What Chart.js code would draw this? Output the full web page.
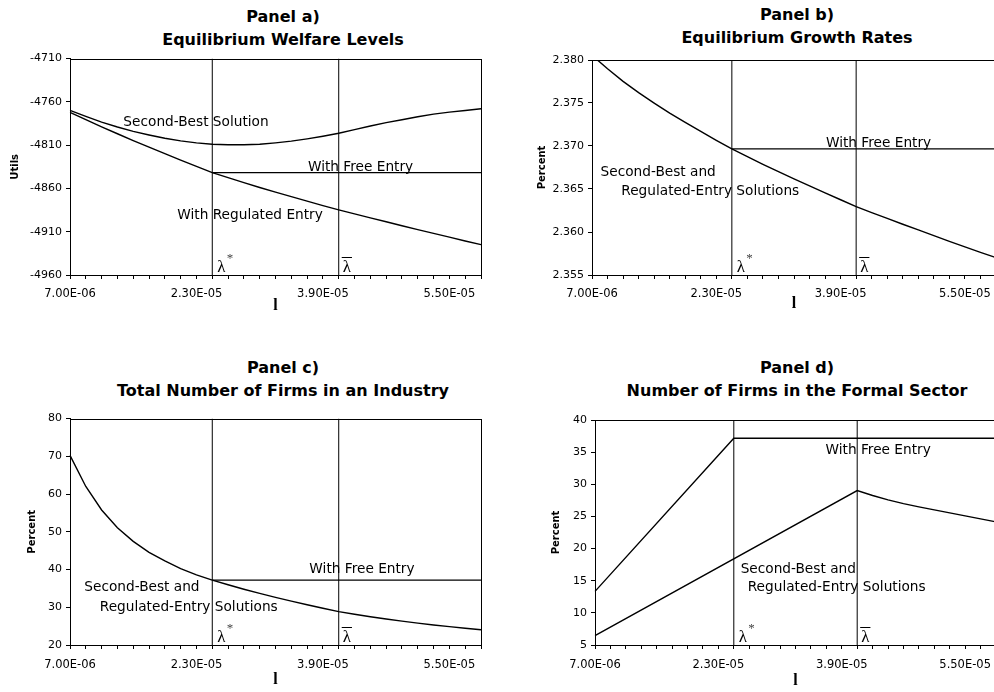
<!DOCTYPE html>
<html lang="en">
<head>
<meta charset="UTF-8">
<title>Equilibrium panels</title>
<script src="https://cdn.jsdelivr.net/npm/chart.js"></script>
<style>
  html, body { margin:0; padding:0; background:#fff; overflow:hidden; }
  body { width:994px; height:692px; position:relative; font-family:"DejaVu Sans", sans-serif; }
  .ttl { position:absolute; width:500px; text-align:center; font-weight:bold; font-size:16px; line-height:23px; color:#000; white-space:nowrap; }
  canvas { position:absolute; }
</style>
</head>
<body>
<div class="ttl" style="left:33px; top:5px;">Panel a)<br>Equilibrium Welfare Levels</div>
<div class="ttl" style="left:547px; top:3px;">Panel b)<br>Equilibrium Growth Rates</div>
<div class="ttl" style="left:33px; top:356px;">Panel c)<br>Total Number of Firms in an Industry</div>
<div class="ttl" style="left:547px; top:356px;">Panel d)<br>Number of Firms in the Formal Sector</div>

<canvas id="ca" width="566" height="272" style="left:0; top:48px;"></canvas>
<canvas id="cb" width="594" height="272" style="left:500px; top:48px;"></canvas>
<canvas id="cc" width="566" height="284" style="left:0; top:408px;"></canvas>
<canvas id="cd" width="594" height="284" style="left:500px; top:408px;"></canvas>

<script>
  // lambda grid of the category axis (step 2E-06), labels shown every 8th
  const lambdas = ['7.00E-06','9.00E-06','1.10E-05','1.30E-05','1.50E-05','1.70E-05','1.90E-05','2.10E-05','2.30E-05',
                   '2.50E-05','2.70E-05','2.90E-05','3.10E-05','3.30E-05','3.50E-05','3.70E-05','3.90E-05','4.10E-05',
                   '4.30E-05','4.50E-05','4.70E-05','4.90E-05','5.10E-05','5.30E-05','5.50E-05','5.70E-05','5.90E-05'];
  const shownLambdas = ['7.00E-06','2.30E-05','3.90E-05','5.50E-05'];
  const lambdaStar = '2.50E-05';
  const lambdaBar = '4.10E-05';

  // Panel a) welfare, utils
  const welfareSecondBest = [-4769.9,-4776.8,-4783.3,-4789.0,-4794.0,-4798.2,-4802.0,-4805.0,-4807.3,-4808.9,-4809.6,-4809.6,-4808.9,-4807.3,
                             -4805.4,-4802.7,-4799.7,-4796.3,-4792.1,-4787.9,-4784.0,-4780.6,-4777.2,-4774.1,-4771.8,-4769.9,-4768.0];
  const welfareRegulated = [-4772.2,-4780.6,-4788.8,-4796.8,-4804.7,-4812.3,-4819.7,-4827.2,-4834.4,-4841.7,-4847.6,-4853.3,-4858.9,-4864.2,
                            -4869.5,-4874.7,-4879.8,-4884.8,-4889.4,-4894.0,-4898.5,-4903.1,-4907.5,-4911.9,-4916.3,-4920.7,-4924.9];
  const welfareFree = [null,null,null,null,null,null,null,null,null,-4841.7,-4841.7,-4841.7,-4841.7,-4841.7,
                       -4841.7,-4841.7,-4841.7,-4841.7,-4841.7,-4841.7,-4841.7,-4841.7,-4841.7,-4841.7,-4841.7,-4841.7,-4841.7];

  // Panel b) growth rate, percent
  const growthSBR = [2.38054,2.37899,2.37752,2.37620,2.37499,2.37383,2.37274,2.37169,2.37066,2.36967,2.36876,2.36787,2.36701,2.36618,
                     2.36536,2.36455,2.36375,2.36296,2.36226,2.36158,2.36090,2.36024,2.35958,2.35892,2.35828,2.35764,2.35702];
  const growthFree = [null,null,null,null,null,null,null,null,null,2.36967,2.36967,2.36967,2.36967,2.36967,
                      2.36967,2.36967,2.36967,2.36967,2.36967,2.36967,2.36967,2.36967,2.36967,2.36967,2.36967,2.36967,2.36967];

  // Panel c) total firms
  const firmsSBR = [70.26,62.02,55.79,51.05,47.46,44.56,42.28,40.26,38.60,37.19,35.96,34.78,33.68,32.63,
                    31.62,30.66,29.74,28.86,28.16,27.50,26.89,26.32,25.79,25.31,24.87,24.43,24.04];
  const firmsFree = [null,null,null,null,null,null,null,null,null,37.19,37.19,37.19,37.19,37.19,
                     37.19,37.19,37.19,37.19,37.19,37.19,37.19,37.19,37.19,37.19,37.19,37.19,37.19];

  // Panel d) formal-sector firms; the rising parts are straight, only their ends are read
  const formalFree = [13.34,null,null,null,null,null,null,null,null,37.15,37.15,37.15,37.15,37.15,
                      37.15,37.15,37.15,37.15,37.15,37.15,37.15,37.15,37.15,37.15,37.15,37.15,37.15];
  const formalSBR = [6.45,null,null,null,null,null,null,null,null,null,null,null,null,null,
                     null,null,null,29.02,28.25,27.57,27.00,26.49,26.02,25.55,25.09,24.62,24.16];

  // y axes: min, max, step
  const welfareAxis = [-4960, -4710, 50];
  const growthAxis = [2.355, 2.380, 0.005];
  const firmsAxis = [20, 80, 10];
  const formalAxis = [5, 40, 5];

  // box round the plot area (Excel style)
  const frame = {
    id: 'frame',
    afterDraw(chart) {
      const {ctx, chartArea: a} = chart;
      const l = Math.round(a.left), t = Math.round(a.top);
      ctx.save();
      ctx.strokeStyle = '#000';
      ctx.lineWidth = 1;
      ctx.strokeRect(l + 0.5, t + 0.5, Math.round(a.right) - l, Math.round(a.bottom) - t);
      ctx.restore();
    }
  };

  // text labels in the plot + lambda markers next to the two vertical lines
  function marks(notes) {
    return {
      id: 'marks',
      afterDatasetsDraw(chart) {
        const {ctx, chartArea: a, scales: {x, y}} = chart;
        ctx.save();
        ctx.fillStyle = '#000';
        ctx.font = '13.7px "DejaVu Sans"';
        ctx.textAlign = 'center';
        ctx.textBaseline = 'alphabetic';
        notes.forEach(([t, i, v]) => ctx.fillText(t, x.getPixelForValue(i), y.getPixelForValue(v)));

        ctx.textAlign = 'left';
        ctx.font = '17px "Liberation Serif"';
        const xs = x.getPixelForValue(lambdaStar) + 5;
        ctx.fillText('λ', xs, a.bottom - 3.5);
        ctx.font = '13px "Liberation Serif"';
        ctx.fillStyle = '#444';
        ctx.fillText('*', xs + 9.5, a.bottom - 13);

        ctx.fillStyle = '#000';
        ctx.font = '17px "Liberation Serif"';
        const xb = x.getPixelForValue(lambdaBar) + 4;
        ctx.fillText('λ', xb, a.bottom - 3.5);
        const w = ctx.measureText('λ').width;
        ctx.strokeStyle = '#000';
        ctx.lineWidth = 1;
        ctx.beginPath();
        ctx.moveTo(xb - 1, Math.round(a.bottom - 18) + 0.5);
        ctx.lineTo(xb + w + 1, Math.round(a.bottom - 18) + 0.5);
        ctx.stroke();
        ctx.restore();
      }
    };
  }

  function panel(id, opt) {
    const [yMin, yMax, yStep] = opt.yAxis;
    const sets = opt.series.map(s => ({
      data: s, borderColor: '#000', borderWidth: 1.4, pointRadius: 0, spanGaps: true, tension: 0
    }));
    [lambdaStar, lambdaBar].forEach(l => sets.push({
      data: [{x: l, y: yMin}, {x: l, y: yMax}], borderColor: '#000', borderWidth: 1, pointRadius: 0
    }));
    new Chart(document.getElementById(id), {
      type: 'line',
      data: { labels: lambdas, datasets: sets },
      options: {
        responsive: false, animation: false, events: [],
        layout: { padding: opt.pad },
        plugins: { legend: { display: false }, tooltip: { enabled: false } },
        scales: {
          x: {
            ticks: {
              autoSkip: false, maxRotation: 0, minRotation: 0, padding: opt.xTickPad, color: '#000',
              font: { family: 'DejaVu Sans', size: 11.5 },
              callback(v) { const l = this.getLabelForValue(v); return shownLambdas.includes(l) ? l : ''; }
            },
            grid: { drawOnChartArea: false, tickLength: 4, color: '#000' },
            border: { color: '#000' },
            title: { display: true, text: 'l', color: '#000', font: { family: 'Liberation Serif', size: 16, weight: 'bold' },
                     padding: { top: 0, bottom: opt.xTitlePad } },
            afterFit(s) { s.height = opt.xH; }
          },
          y: {
            min: yMin, max: yMax,
            ticks: { stepSize: yStep, padding: 4, color: '#000', font: { family: 'DejaVu Sans', size: 11 }, callback: opt.fmt },
            grid: { drawOnChartArea: false, tickLength: 4, color: '#000' },
            border: { color: '#000' },
            title: { display: true, text: opt.yTitle, color: '#000', font: { family: 'DejaVu Sans', size: 10, weight: 'bold' },
                     padding: { top: opt.yTitlePad, bottom: 0 } },
            afterFit(s) { s.width = opt.yW; }
          }
        }
      },
      plugins: [frame, marks(opt.notes)]
    });
  }

  panel('ca', {
    series: [welfareSecondBest, welfareRegulated, welfareFree], yAxis: welfareAxis,
    fmt: v => String(v), yTitle: 'Utils',
    pad: { left: 0, top: 9, right: 85, bottom: 0 }, yW: 70, xH: 45, yTitlePad: 9.5, xTitlePad: 4.5, xTickPad: 8,
    notes: [['Second-Best Solution', 7.97, -4788.2], ['With Free Entry', 18.38, -4839.7], ['With Regulated Entry', 11.39, -4895.8]]
  });
  panel('cb', {
    series: [growthSBR, growthFree], yAxis: growthAxis,
    fmt: v => v.toFixed(3), yTitle: 'Percent',
    pad: { left: 0, top: 12, right: 98, bottom: 0 }, yW: 92, xH: 45, yTitlePad: 36, xTitlePad: 7, xTickPad: 8,
    notes: [['With Free Entry', 18.44, 2.36994], ['Second-Best and', 4.26, 2.36656], ['Regulated-Entry Solutions', 7.61, 2.36435]]
  });
  panel('cc', {
    series: [firmsSBR, firmsFree], yAxis: firmsAxis,
    fmt: v => String(v), yTitle: 'Percent',
    pad: { left: 0, top: 9, right: 85, bottom: 0 }, yW: 70, xH: 47, yTitlePad: 26, xTitlePad: 2.5, xTickPad: 9,
    notes: [['With Free Entry', 18.47, 38.95], ['Second-Best and', 4.55, 34.37], ['Regulated-Entry Solutions', 7.51, 29.11]]
  });
  panel('cd', {
    series: [formalFree, formalSBR], yAxis: formalAxis,
    fmt: v => String(v), yTitle: 'Percent',
    pad: { left: 0, top: 12, right: 98, bottom: 0 }, yW: 95, xH: 47, yTitlePad: 50, xTitlePad: 1.5, xTickPad: 9,
    notes: [['With Free Entry', 18.36, 34.72], ['Second-Best and', 13.18, 16.18], ['Regulated-Entry Solutions', 15.67, 13.39]]
  });
</script>
</body>
</html>
